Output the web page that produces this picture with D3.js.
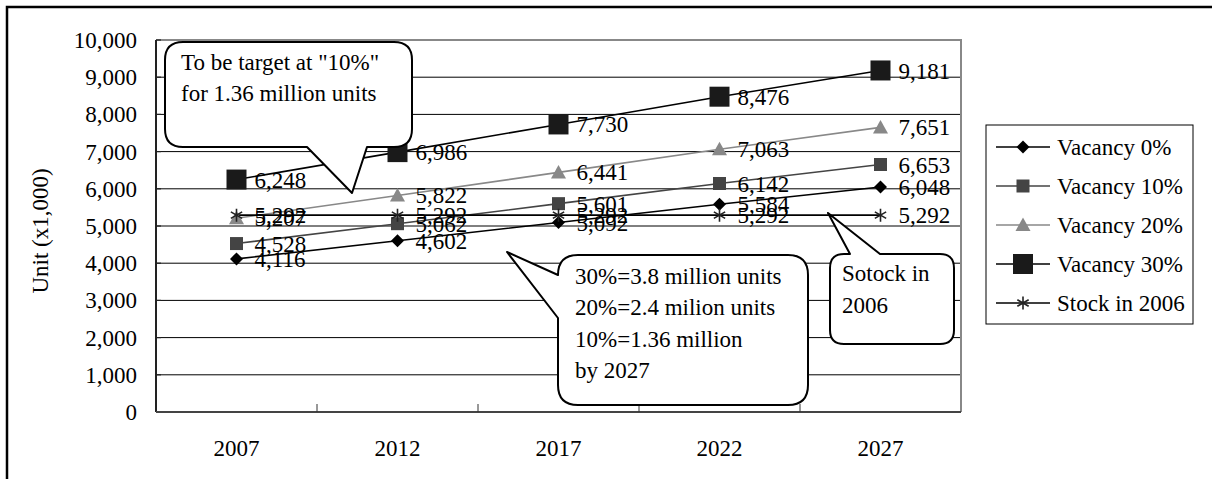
<!DOCTYPE html>
<html><head><meta charset="utf-8">
<script src="https://cdn.jsdelivr.net/npm/d3@7"></script>
<style>
body{margin:0;background:#fff}
svg{display:block}
text{font-family:"Liberation Serif","Times New Roman",Tinos,"DejaVu Serif",serif;fill:#000}
</style>
</head><body>
<svg id="c" width="1212" height="479"></svg>
<script>
// ---- data ----
const categories = ["2007", "2012", "2017", "2022", "2027"];
const vacancy0  = [4116, 4602, 5092, 5584, 6048];
const vacancy10 = [4528, 5062, 5601, 6142, 6653];
const vacancy20 = [5207, 5822, 6441, 7063, 7651];
const vacancy30 = [6248, 6986, 7730, 8476, 9181];
const stock2006 = [5292, 5292, 5292, 5292, 5292];
const seriesNames = ["Vacancy 0%", "Vacancy 10%", "Vacancy 20%", "Vacancy 30%", "Stock in 2006"];
const yTicks = [0, 1000, 2000, 3000, 4000, 5000, 6000, 7000, 8000, 9000, 10000];
const yTitle = "Unit (x1,000)";
const callout1Lines = ['To be target at "10%"', "for 1.36 million units"];
const callout2Lines = ["30%=3.8 million units", "20%=2.4 milion units", "10%=1.36 million", "by 2027"];
const callout3Lines = ["Sotock in", "2006"];

// ---- layout ----
const svg = d3.select("#c");
const L = 156, R = 961, T = 40, B = 412;
const FS = 23;
const x = d3.scaleBand().domain(categories).range([L, R]);
const xc = c => x(c) + x.bandwidth() / 2;
const y = d3.scaleLinear().domain([0, 10000]).range([B, T]);

const styles = [
  {data: vacancy0,  color: "#000",    line: "#000",    marker: "diamond", s: 6.5},
  {data: vacancy10, color: "#444",    line: "#444",    marker: "square",  s: 6.5},
  {data: vacancy20, color: "#888",    line: "#888",    marker: "triangle",s: 7.5},
  {data: vacancy30, color: "#1a1a1a", line: "#000",    marker: "square",  s: 10},
  {data: stock2006, color: "#222",    line: "#000",    marker: "star",    s: 6.5}
];

// outer frame
svg.append("rect").attr("x", 7).attr("y", 7).attr("width", 1220).attr("height", 480)
  .attr("fill", "none").attr("stroke", "#000").attr("stroke-width", 2.5);

// gridlines
svg.append("g").selectAll("line").data(yTicks.filter(v => v > 0 && v < 10000)).join("line")
  .attr("x1", L).attr("x2", R).attr("y1", d => y(d)).attr("y2", d => y(d))
  .attr("stroke", "#000").attr("stroke-width", 1);

// plot border (top/right gray)
svg.append("path").attr("d", `M${L},${T}H${R}V${B}`).attr("fill", "none")
  .attr("stroke", "#888").attr("stroke-width", 2);

// y axis
svg.append("line").attr("x1", L).attr("x2", L).attr("y1", T).attr("y2", B)
  .attr("stroke", "#222").attr("stroke-width", 2);
svg.append("g").selectAll("line").data(yTicks).join("line")
  .attr("x1", L).attr("x2", L + 5).attr("y1", d => y(d)).attr("y2", d => y(d))
  .attr("stroke", "#222").attr("stroke-width", 1.2);
svg.append("g").selectAll("text").data(yTicks).join("text")
  .attr("x", 137).attr("y", d => y(d)).attr("dy", "0.35em")
  .attr("text-anchor", "end").attr("font-size", FS).text(d => d3.format(",")(d));
svg.append("text").attr("transform", `translate(48,231) rotate(-90)`)
  .attr("text-anchor", "middle").attr("font-size", FS).text(yTitle);

// x axis
svg.append("line").attr("x1", L).attr("x2", R).attr("y1", B).attr("y2", B)
  .attr("stroke", "#444").attr("stroke-width", 2.2);
svg.append("g").selectAll("line").data(categories.slice(1)).join("line")
  .attr("x1", d => x(d)).attr("x2", d => x(d)).attr("y1", B).attr("y2", B - 8)
  .attr("stroke", "#333").attr("stroke-width", 1);
svg.append("g").selectAll("text").data(categories).join("text")
  .attr("x", d => xc(d)).attr("y", 448).attr("dy", "0.35em")
  .attr("text-anchor", "middle").attr("font-size", FS).text(d => d);

// marker paths
function markerPath(type, s) {
  switch (type) {
    case "diamond": return `M0,${-s}L${s},0L0,${s}L${-s},0Z`;
    case "square": return `M${-s},${-s}H${s}V${s}H${-s}Z`;
    case "triangle": return `M0,${-s}L${s},${s * 0.8}H${-s}Z`;
    case "star": {
      const a = s * 0.87, b = s * 0.5;
      return `M0,${-s}V${s}M${-a},${-b}L${a},${b}M${-a},${b}L${a},${-b}`;
    }
  }
}
function drawMarker(g, st) {
  const p = g.append("path").attr("d", markerPath(st.marker, st.s));
  if (st.marker === "star") p.attr("fill", "none").attr("stroke", st.color).attr("stroke-width", 1.6);
  else p.attr("fill", st.color).attr("stroke", "none");
}

// lines
const lineGen = d3.line().x((d, i) => xc(categories[i])).y(d => y(d));
styles.forEach(st => {
  svg.append("path").attr("d", lineGen(st.data)).attr("fill", "none")
    .attr("stroke", st.line).attr("stroke-width", 1.6);
});
// markers
styles.forEach(st => {
  st.data.forEach((v, i) => {
    const g = svg.append("g").attr("transform", `translate(${xc(categories[i])},${y(v)})`);
    drawMarker(g, st);
  });
});
// labels
styles.forEach(st => {
  st.data.forEach((v, i) => {
    svg.append("text").attr("x", xc(categories[i]) + 18).attr("y", y(v)).attr("dy", "0.35em")
      .attr("font-size", FS).text(d3.format(",")(v));
  });
});

// callouts
function calloutPath(b, r, side, p1, p2, tip) {
  const p = d3.path();
  p.moveTo(b.x0 + r, b.y0);
  if (side === "top") { p.lineTo(p1, b.y0); p.lineTo(tip[0], tip[1]); p.lineTo(p2, b.y0); }
  p.lineTo(b.x1 - r, b.y0); p.quadraticCurveTo(b.x1, b.y0, b.x1, b.y0 + r);
  p.lineTo(b.x1, b.y1 - r); p.quadraticCurveTo(b.x1, b.y1, b.x1 - r, b.y1);
  if (side === "bottom") { p.lineTo(p1, b.y1); p.lineTo(tip[0], tip[1]); p.lineTo(p2, b.y1); }
  p.lineTo(b.x0 + r, b.y1); p.quadraticCurveTo(b.x0, b.y1, b.x0, b.y1 - r);
  if (side === "left") { p.lineTo(b.x0, p1); p.lineTo(tip[0], tip[1]); p.lineTo(b.x0, p2); }
  p.lineTo(b.x0, b.y0 + r); p.quadraticCurveTo(b.x0, b.y0, b.x0 + r, b.y0);
  p.closePath();
  return p.toString();
}
function callout(b, r, side, p1, p2, tip, lines, tx, ty0, lh) {
  svg.append("path").attr("d", calloutPath(b, r, side, p1, p2, tip))
    .attr("fill", "#fff").attr("stroke", "#000").attr("stroke-width", 2).attr("stroke-linejoin", "round");
  lines.forEach((t, i) => svg.append("text").attr("x", tx).attr("y", ty0 + i * lh).attr("dy", "0.35em")
    .attr("font-size", FS).text(t));
}
callout({x0: 165, y0: 42, x1: 412, y1: 147}, 18, "bottom", 367, 307, [352, 193], callout1Lines, 181, 62, 31);
callout({x0: 558, y0: 255, x1: 808, y1: 405}, 20, "left", 318, 275, [507, 252], callout2Lines, 575, 276, 31.3);
callout({x0: 830, y0: 254, x1: 954, y1: 344}, 14, "top", 850, 880, [828, 213], callout3Lines, 842, 273, 32);

// legend
svg.append("rect").attr("x", 986).attr("y", 125).attr("width", 207).attr("height", 199)
  .attr("fill", "#fff").attr("stroke", "#000").attr("stroke-width", 1);
styles.forEach((st, i) => {
  const ly = 147 + i * 39;
  svg.append("line").attr("x1", 996).attr("x2", 1050).attr("y1", ly).attr("y2", ly)
    .attr("stroke", st.line).attr("stroke-width", 1.6);
  const g = svg.append("g").attr("transform", `translate(1023,${ly})`);
  drawMarker(g, st);
  svg.append("text").attr("x", 1057).attr("y", ly).attr("dy", "0.35em")
    .attr("font-size", FS).text(seriesNames[i]);
});
</script>
</body></html>
